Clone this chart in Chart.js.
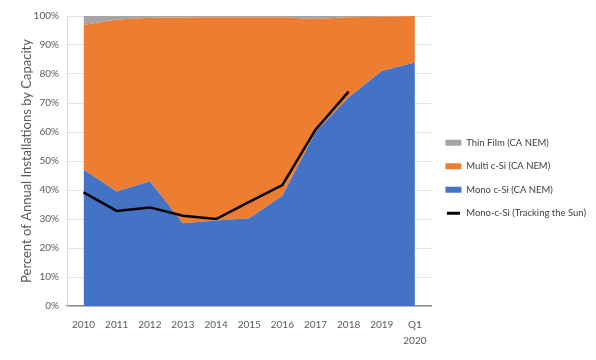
<!DOCTYPE html>
<html>
<head>
<meta charset="utf-8">
<script src="https://cdn.jsdelivr.net/npm/chart.js@4/dist/chart.umd.min.js"></script>
<style>
html,body{margin:0;padding:0;background:#fff;}
#wrap{width:596px;height:360px;position:relative;}
</style>
</head>
<body>
<div id="wrap"><canvas id="c" width="596" height="360"></canvas></div>
<script>
const categories = ['2010','2011','2012','2013','2014','2015','2016','2017','2018','2019',['Q1','2020']];
const monoNEM = [47, 39.5, 43, 28.5, 29.5, 30.3, 38, 60, 72, 81, 84];
const multiNEM = [49.9, 59.3, 56.4, 71.0, 70.1, 69.3, 61.6, 39.0, 27.6, 18.7, 16.0];
const thinNEM = [3.1, 1.2, 0.6, 0.5, 0.4, 0.4, 0.4, 1.0, 0.4, 0.3, 0];
const monoTTS = [39.2, 32.8, 34, 31.1, 30, 35.9, 41.7, 60.8, 73.9, null, null];
const yTicks = [0,10,20,30,40,50,60,70,80,90,100];

const legendOrder = ['Thin Film (CA NEM)','Multi c-Si (CA NEM)','Mono c-Si (CA NEM)','Mono-c-Si (Tracking the Sun)'];
const FONT = 'Lato';
const TXT = '#595959';

// let the x tick labels use the full space below the axis (Chart.js clips labels to the scale box)
const xLabelRoom = {
  id:'xLabelRoom',
  afterLayout(chart){ chart.scales.x.bottom = chart.height; }
};

const chart = new Chart(document.getElementById('c'), {
  type: 'line',
  data: {
    labels: categories,
    datasets: [
      {label:'Mono c-Si (CA NEM)', data: monoNEM, backgroundColor:'#4472C4', borderColor:'#4472C4', borderWidth:0, fill:'origin', pointRadius:0, stack:'nem'},
      {label:'Multi c-Si (CA NEM)', data: multiNEM, backgroundColor:'#ED7D31', borderColor:'#ED7D31', borderWidth:0, fill:'-1', pointRadius:0, stack:'nem'},
      {label:'Thin Film (CA NEM)', data: thinNEM, backgroundColor:'#A5A5A5', borderColor:'#A5A5A5', borderWidth:0, fill:'-1', pointRadius:0, stack:'nem'},
      {label:'Mono-c-Si (Tracking the Sun)', data: monoTTS, backgroundColor:'#000', borderColor:'#000', borderWidth:2.5, fill:false, pointRadius:0, stack:'tts', spanGaps:false}
    ]
  },
  plugins:[xLabelRoom],
  options: {
    responsive:false,
    animation:false,
    layout:{padding:{left:0, right:0, top:16, bottom:20}},
    plugins:{
      filler:{drawTime:'beforeDatasetsDraw'},
      tooltip:{enabled:false},
      legend:{
        position:'right',
        align:'center',
        maxWidth:200,
        labels:{
          font:{family:FONT, size:9.5},
          color:'#404040',
          boxWidth:16,
          boxHeight:6,
          padding:14,
          sort:(a,b)=>legendOrder.indexOf(a.text)-legendOrder.indexOf(b.text),
          generateLabels:(chart)=>{
            const items = Chart.defaults.plugins.legend.labels.generateLabels(chart);
            items.forEach(it=>{
              if(it.text==='Mono-c-Si (Tracking the Sun)'){
                it.fillStyle='#000'; it.strokeStyle='#fff'; it.lineWidth=3;
              } else {
                it.strokeStyle=it.fillStyle; it.lineWidth=0;
              }
            });
            return items;
          }
        }
      }
    },
    scales:{
      x:{
        offset:true,
        afterFit:(s)=>{s.height=34;},
        grid:{drawOnChartArea:false, drawTicks:false},
        border:{display:true, color:'#8c8c8c', width:1.5},
        ticks:{font:{family:FONT, size:10, lineHeight:1.6}, color:TXT, padding:11, maxRotation:0, autoSkip:false}
      },
      y:{
        stacked:true,
        min:0, max:100,
        afterFit:(s)=>{s.width=67;},
        grid:{color:'#e3e3e3', drawTicks:false},
        border:{display:true, color:'#d9d9d9'},
        afterBuildTicks:(s)=>{s.ticks = yTicks.map(v=>({value:v}));},
        ticks:{font:{family:FONT, size:10}, color:TXT, padding:8, callback:(v)=>v+'%'},
        title:{display:true, text:'Percent of Annual Installations by Capacity', font:{family:FONT, size:13}, color:TXT, padding:{top:19,bottom:0}}
      }
    }
  }
});
</script>
</body>
</html>
